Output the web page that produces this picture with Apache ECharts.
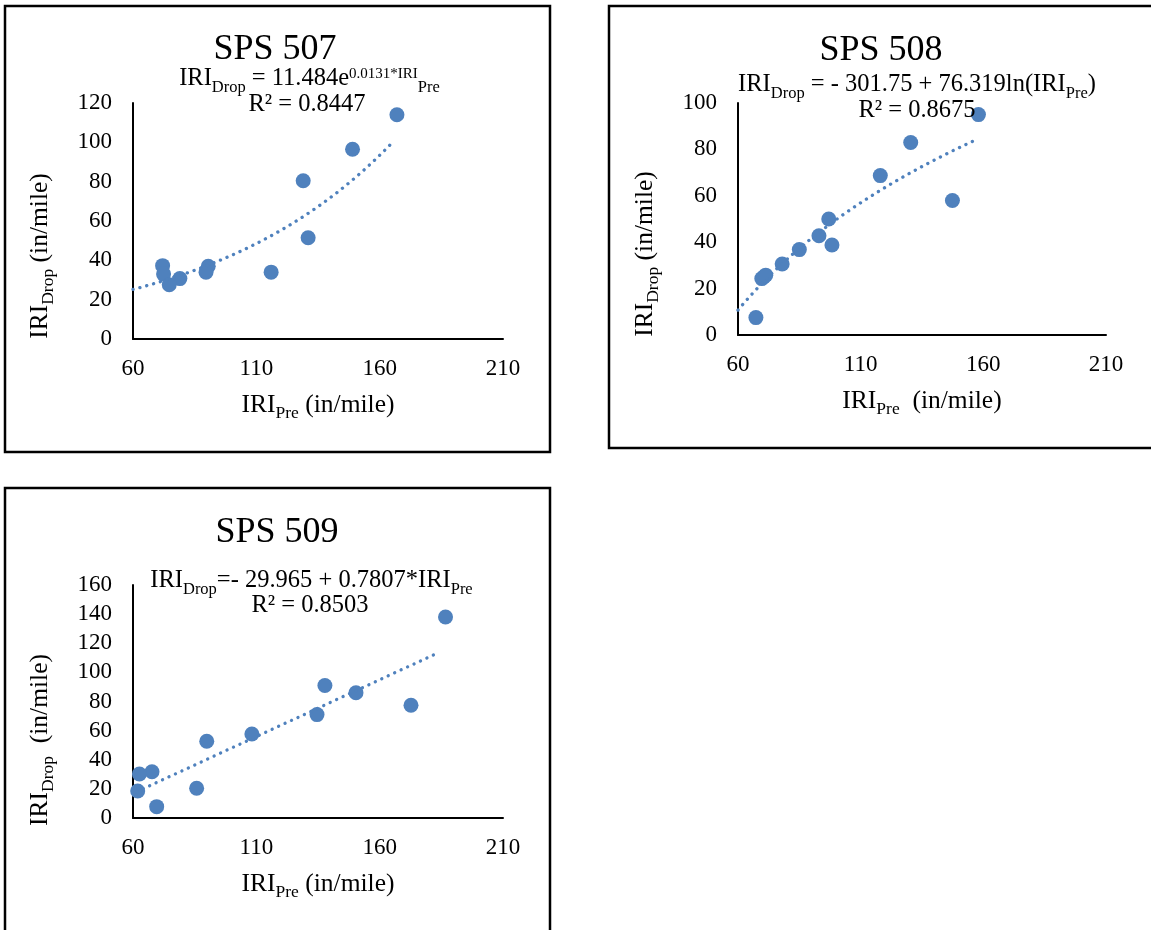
<!DOCTYPE html>
<html>
<head>
<meta charset="utf-8">
<title>SPS 507 / 508 / 509 IRI drop vs IRI pre</title>
<script src="https://cdn.jsdelivr.net/npm/echarts@6/dist/echarts.min.js"></script>
<style>
  html, body { margin: 0; padding: 0; background: #fff; }
</style>
</head>
<body>
<div id="main" style="width:1151px;height:930px;"></div>
<script type="text/javascript">
// ---- data ----
var sections = ['SPS 507', 'SPS 508', 'SPS 509'];

var pre507  = [167, 149, 129, 131, 116, 90.5, 89.6, 79, 72, 72.4, 74.7];
var drop507 = [114, 96.5, 80.5, 51.5, 34, 37, 34, 30.7, 37.3, 33, 27.6];

var pre508  = [158, 130.4, 118, 147.4, 97, 93, 98.3, 85, 78, 70.5, 69.7, 71.3, 67.3];
var drop508 = [95, 83, 68.7, 58, 50, 42.8, 38.8, 36.8, 30.6, 25, 24.3, 25.8, 7.5];

var pre509  = [186.7, 137.8, 150.4, 172.7, 134.6, 108.2, 89.9, 85.8, 67.7, 62.6, 61.9, 69.6];
var drop509 = [138, 91, 86, 77.4, 71, 57.7, 52.7, 20.4, 31.8, 30.2, 18.5, 7.8];

// trendline coefficients as printed on the chart, and the x span each trendline covers
var fit507 = [11.484, 0.0131];      // y = a * e^(b*x)
var fit508 = [-301.75, 76.319];     // y = a + b*ln(x)
var fit509 = [-29.965, 0.7807];     // y = a + b*x
var span507 = [60, 165.5];
var span508 = [60, 157.3];
var span509 = [61.5, 184];

var r2Labels = ['R\u00b2 = 0.8447', 'R\u00b2 = 0.8675', 'R\u00b2 = 0.8503'];
var xTicks = [60, 110, 160, 210];
var yMax = [120, 100, 160];

var blue = '#4f81bd';
var serif = "'Liberation Serif', 'Times New Roman', serif";

function pairs(xs, ys) {
    return xs.map(function (x, i) { return [x, ys[i]]; });
}
function curve(span, f) {
    var out = [];
    var n = 60;
    for (var i = 0; i <= n; i++) {
        var x = span[0] + (span[1] - span[0]) * i / n;
        out.push([x, f(x)]);
    }
    return out;
}

function tok(size, lh, va) {
    return { fontFamily: serif, fontSize: size, lineHeight: lh, verticalAlign: va, fontWeight: 'normal', color: '#000' };
}
// equation lines
var eqRich = { m: tok(24.5, 30, 'top'), s: tok(16.5, 11, 'bottom'), p: tok(15, 30, 'top') };
// axis names
var nameRich = { a: tok(25.5, 30, 'top'), b: tok(17.5, 10, 'bottom') };

var eqTexts = [
    '{m|IRI}{s|Drop}{m| = 11.484e}{p|0.0131*IRI}{s|Pre}',
    '{m|IRI}{s|Drop}{m| = - 301.75 + 76.319ln(IRI}{s|Pre}{m|)}',
    '{m|IRI}{s|Drop}{m|=- 29.965 + 0.7807*IRI}{s|Pre}'
];
var xNames = ['{a|IRI}{b|Pre}{a| (in/mile)}', '{a|IRI}{b|Pre}{a|  (in/mile)}', '{a|IRI}{b|Pre}{a| (in/mile)}'];
var yNames = ['{a|IRI}{b|Drop}{a| (in/mile)}', '{a|IRI}{b|Drop}{a| (in/mile)}', '{a|IRI}{b|Drop}{a|  (in/mile)}'];

// layout of the three panels
var grids = [
    { left: 133, top: 103, width: 370, height: 236 },
    { left: 738, top: 103, width: 368, height: 232 },
    { left: 133, top: 585, width: 370, height: 233 }
];
var titlePos = [[275, 29.5], [881, 30.5], [277, 512.5]];
var eqPos = [[309.5, 66.5], [917, 72], [311.5, 568]];
var r2Pos = [[307, 92], [917, 98.5], [310, 593.5]];
var yNamePad = [70, 70, 77];

var mychart = echarts.init(document.getElementById('main'));

var titles = [];
sections.forEach(function (s, i) {
    titles.push({
        text: s, left: titlePos[i][0], top: titlePos[i][1], textAlign: 'center', padding: 0,
        textStyle: { fontFamily: serif, fontSize: 36, lineHeight: 40, fontWeight: 'normal', color: '#000' }
    });
    titles.push({
        text: eqTexts[i], left: eqPos[i][0], top: eqPos[i][1], textAlign: 'center', padding: 0,
        textStyle: { fontWeight: 'normal', rich: eqRich }
    });
    titles.push({
        text: '{m|' + r2Labels[i] + '}', left: r2Pos[i][0], top: r2Pos[i][1], textAlign: 'center', padding: 0,
        textStyle: { fontWeight: 'normal', rich: eqRich }
    });
});

var xAxes = [], yAxes = [];
grids.forEach(function (g, i) {
    xAxes.push({
        gridIndex: i, type: 'value', min: xTicks[0], max: xTicks[xTicks.length - 1], interval: 50,
        name: xNames[i], nameLocation: 'middle', nameGap: 53,
        nameTextStyle: { rich: nameRich },
        axisLine: { show: true, onZero: false, lineStyle: { color: '#000', width: 2 } },
        axisTick: { show: false },
        splitLine: { show: false },
        axisLabel: { color: '#000', fontFamily: serif, fontSize: 23, margin: 18 }
    });
    yAxes.push({
        gridIndex: i, type: 'value', min: 0, max: yMax[i], interval: 20,
        name: yNames[i], nameLocation: 'middle', nameGap: 76,
        nameTextStyle: { rich: nameRich, padding: [0, yNamePad[i], 0, 0] },
        axisLine: { show: true, onZero: false, lineStyle: { color: '#000', width: 2 } },
        axisTick: { show: false },
        splitLine: { show: false },
        axisLabel: { color: '#000', fontFamily: serif, fontSize: 23, margin: 21 }
    });
});

var trends = [
    curve(span507, function (x) { return fit507[0] * Math.exp(fit507[1] * x); }),
    curve(span508, function (x) { return fit508[0] + fit508[1] * Math.log(x); }),
    curve(span509, function (x) { return fit509[0] + fit509[1] * x; })
];
var points = [pairs(pre507, drop507), pairs(pre508, drop508), pairs(pre509, drop509)];

var series = [];
for (var i = 0; i < 3; i++) {
    series.push({
        type: 'line', xAxisIndex: i, yAxisIndex: i, data: trends[i],
        showSymbol: false, symbol: 'none', silent: true,
        lineStyle: { color: blue, width: 3.3, type: [0.1, 7], cap: 'round' }
    });
    series.push({
        type: 'scatter', xAxisIndex: i, yAxisIndex: i, data: points[i],
        symbolSize: 15, itemStyle: { color: blue, opacity: 1 }
    });
}

var option = {
    backgroundColor: '#fff',
    animation: false,
    title: titles,
    grid: grids.map(function (g) {
        return { left: g.left, top: g.top, width: g.width, height: g.height, outerBoundsMode: 'none', containLabel: false };
    }),
    xAxis: xAxes,
    yAxis: yAxes,
    series: series,
    graphic: [
        { type: 'rect', shape: { x: 5, y: 6, width: 545, height: 446 }, style: { fill: 'none', stroke: '#000', lineWidth: 2.5 } },
        { type: 'rect', shape: { x: 609, y: 6, width: 560, height: 442 }, style: { fill: 'none', stroke: '#000', lineWidth: 2.5 } },
        { type: 'rect', shape: { x: 5, y: 488, width: 545, height: 460 }, style: { fill: 'none', stroke: '#000', lineWidth: 2.5 } }
    ]
};
mychart.setOption(option);
</script>
</body>
</html>
